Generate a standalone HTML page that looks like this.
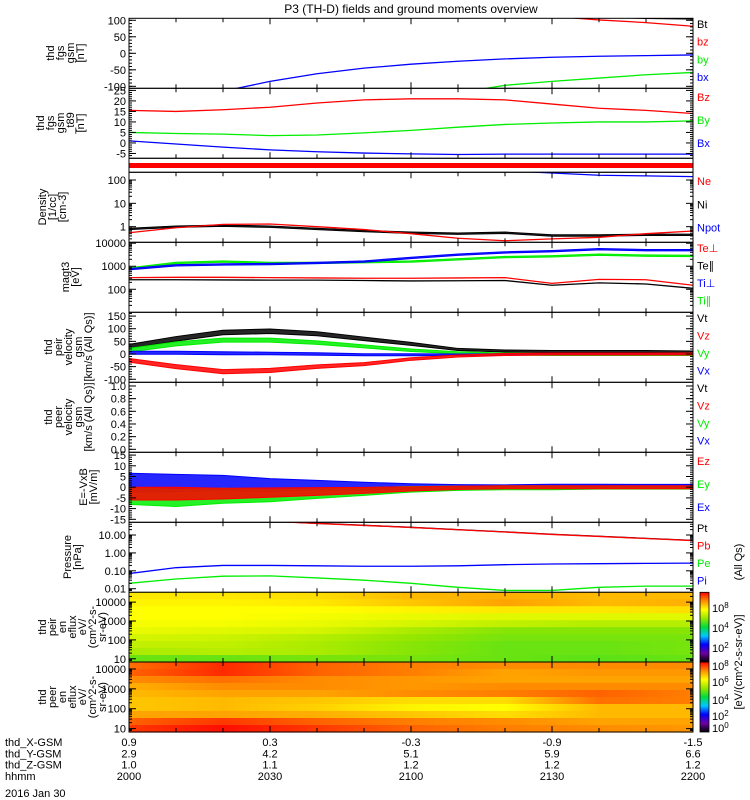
<!DOCTYPE html>
<html><head><meta charset="utf-8">
<style>
html,body{margin:0;padding:0;background:#fff;}
svg{display:block;font-family:"Liberation Sans",sans-serif;}
text{font-size:11px;}
</style></head>
<body>
<svg id="chart" width="750" height="800" viewBox="0 0 750 800" xmlns="http://www.w3.org/2000/svg">
<text x="411" y="13" text-anchor="middle" style="font-size:12px">P3 (TH-D) fields and ground moments overview</text>
</svg>
<script>
// ---- data arrays (time in minutes since 20:00) ----
const times = [0,10,20,30,40,50,60,70,80,90,100,110,120];
const bx = [-180,-150,-115,-85,-62,-45,-33,-24,-17,-12,-9,-7,-5];
const by = [-300,-280,-260,-240,-220,-190,-150,-120,-97,-85,-75,-65,-58];
const bz = [250,230,210,190,170,150,135,125,118,112,101,93,82];
const bt = [300,280,260,240,220,200,180,160,140,125,110,106,104];
const Bz2 = [15.5,15,15.8,17,19,20.5,21,21,20.5,18.5,16.5,15.5,14];
const By2 = [5,4.5,4.2,3.5,3.8,4.8,6,7.5,8.8,9.5,10,10,10.5];
const Bx2 = [1,-0.5,-2,-3.3,-4.2,-4.8,-5.2,-5.5,-5.3,-5.3,-5.3,-5.3,-5.3];
const Ne = [0.55,0.9,1.25,1.3,1.0,0.75,0.5,0.32,0.25,0.3,0.35,0.5,0.65];
const Ni = [0.8,1.0,1.1,1.0,0.8,0.65,0.55,0.5,0.55,0.42,0.42,0.45,0.45];
const Npot = [900,800,700,600,500,400,350,300,250,200,160,150,140];
const TePerp = [320,330,330,320,310,300,300,310,320,180,270,260,150];
const TePar = [260,260,255,250,250,240,230,235,240,150,190,170,110];
const TiPerp = [750,1100,1200,1250,1400,1600,2300,3200,4000,4500,5500,5000,5000];
const TiPar = [800,1400,1600,1400,1400,1500,1600,2000,2500,2700,3200,2900,2800];
const Vt = [30,60,85,90,80,60,40,18,12,10,10,10,8];
const VtNoise = [8,9,9,9,8,7,6,4,4,4,4,4,4];
const Vy = [15,40,55,55,45,30,15,5,0,-2,-2,-2,-2];
const VyNoise = [7,8,8,8,7,6,5,4,4,4,4,4,4];
const Vx = [5,5,3,2,0,-3,-3,-3,-2,0,0,0,0];
const VxNoise = [6,6,6,5,5,4,4,3,3,3,3,3,3];
const Vz = [-25,-50,-70,-65,-50,-40,-20,-8,-2,0,0,0,0];
const VzNoise = [7,8,8,8,7,6,5,4,4,4,4,4,4];
const Ex = [2,2,2,1,1,0.5,0.3,0.2,0.2,0.5,0.5,0.4,0.4];
const ExNoise = [4.5,4,3.5,3,2.2,1.8,1.3,1,0.9,0.9,0.9,0.9,0.9];
const Ey = [-4,-5,-4,-4,-3,-2,-1,-0.5,-0.3,-0.3,-0.2,-0.2,-0.2];
const EyNoise = [4,4,3.5,2.8,2.2,1.8,1.3,1,0.9,0.9,0.7,0.7,0.7];
const Ez = [-3,-3,-3,-2.5,-2,-1.5,-0.8,-0.3,0,0,0,0,0];
const EzNoise = [3,3,2.5,2.2,1.8,1.4,1,0.8,0.7,0.7,0.7,0.7,0.7];
const Pt = [100,90,80,60,45,35,27,20,15,11,8.5,6.5,5];
const Pi = [0.07,0.15,0.2,0.2,0.19,0.18,0.18,0.19,0.22,0.24,0.25,0.26,0.27];
const Pe = [0.02,0.035,0.05,0.052,0.04,0.03,0.02,0.012,0.008,0.008,0.012,0.014,0.014];
const specTimes = [0,20,40,60,80,100,120];
const ionFlux = [
 [6.2,6.2,6.3,6.6,6.7,6.6,6.6],[6.1,6.1,6.2,6.5,6.8,6.6,6.7],[6.0,6.0,6.0,6.1,6.2,6.2,6.3],
 [6.0,6.0,5.9,5.8,5.7,5.7,5.7],[5.9,5.9,5.8,5.6,5.4,5.3,5.3],[5.8,5.7,5.6,5.2,4.9,4.9,4.9],
 [5.6,5.5,5.3,5.0,4.8,4.8,4.8],[5.4,5.4,5.2,4.9,4.7,4.7,4.8],[5.2,5.3,5.2,4.9,4.7,4.7,4.8],
 [4.7,4.7,4.8,4.8,4.7,4.6,4.7]];
const eleFlux = [
 [7.2,7.7,7.3,7.1,7.0,7.0,7.0],[7.3,7.7,7.3,7.1,6.8,6.9,6.9],[7.0,7.2,7.0,6.9,6.8,6.8,6.8],
 [6.7,7.0,7.0,6.9,7.0,7.0,7.0],[6.6,6.8,6.8,7.0,7.1,7.3,7.1],[6.5,6.6,6.5,6.3,6.3,7.2,7.1],
 [6.5,6.6,6.4,6.1,6.0,6.6,6.6],[6.8,6.8,6.7,6.5,6.3,6.6,6.6],[7.3,7.6,7.3,7.1,7.0,6.8,6.8],
 [7.6,7.9,7.6,7.3,7.1,7.0,6.9]];
const xLabelRows = [["thd_X-GSM","0.9","0.3","-0.3","-0.9","-1.5"],["thd_Y-GSM","2.9","4.2","5.1","5.9","6.6"],["thd_Z-GSM","1.0","1.1","1.2","1.2","1.2"],["hhmm","2000","2030","2100","2130","2200"]];

// ---- helpers ----
const svg = document.getElementById('chart');
const NS = 'http://www.w3.org/2000/svg';
const X0 = 129, X1 = 693;
function xS(t){ return X0 + (t/120)*(X1-X0); }
function mk(tag, attrs, parent){ const e = document.createElementNS(NS, tag); for (const k in attrs) e.setAttribute(k, attrs[k]); (parent||svg).appendChild(e); return e; }
function linS(top,bot,dmax,dmin){ return v => top + (dmax - v)/(dmax-dmin)*(bot-top); }
function logS(top,bot,lmax,lmin){ return v => top + (lmax - Math.log10(v))/(lmax-lmin)*(bot-top); }
let clipN = 0;
function clip(top,bot){ const id='c'+(clipN++); const cp = mk('clipPath',{id:id}); mk('rect',{x:X0,y:top,width:X1-X0,height:bot-top},cp); return 'url(#'+id+')'; }
function line(vals, ys, color, clp, name){
  const p = mk('polyline',{points: times.map((t,i)=>xS(t)+','+ys(vals[i])).join(' '), fill:'none', stroke:color, 'stroke-width':1.3, 'clip-path':clp});
  
  
}
function band(vals, noise, ys, color, clp, name){
  const up = times.map((t,i)=>xS(t)+','+ys(vals[i]+noise[i]));
  const dn = times.map((t,i)=>xS(t)+','+ys(vals[i]-noise[i])).reverse();
  const p = mk('polygon',{points: up.concat(dn).join(' '), fill:color, 'fill-opacity':0.85, stroke:color, 'stroke-width':1, 'clip-path':clp});
  
  
}
function frame(top,bot,name){
  const r = mk('rect',{x:X0,y:top,width:X1-X0,height:bot-top,fill:'none',stroke:'#000','stroke-width':1});
  
  
  for (let t=0;t<=120;t+=10){ const L = (t%30===0)?6:4;
    mk('line',{x1:xS(t),x2:xS(t),y1:top,y2:top+L,stroke:'#000'}); mk('line',{x1:xS(t),x2:xS(t),y1:bot,y2:bot-L,stroke:'#000'}); }
}
function ytick(y, label, major, panel){
  const L = major?7:3;
  mk('line',{x1:X0,x2:X0+L,y1:y,y2:y,stroke:'#000'}); mk('line',{x1:X1,x2:X1-L,y1:y,y2:y,stroke:'#000'});
  if (label!==null){ const t = mk('text',{x:X0-3,y:y+4,'text-anchor':'end'}); t.textContent = label;
      }
}
function linTicks(ys, top, bot, majors, step, panel, fmt){
  majors.forEach(v=>ytick(ys(v), fmt?fmt(v):String(v), true, panel));
  const lo = Math.min(...majors)-step*5, hi = Math.max(...majors)+step*5;
  for (let v=lo; v<=hi; v+=step){ const y=ys(v); if (y>top+1 && y<bot-1) ytick(y,null,false,panel); }
}
function logTicks(ys, top, bot, decades, panel, fmt){
  decades.forEach(d=>{ ytick(ys(Math.pow(10,d)), fmt?fmt(d):String(Math.pow(10,d)), true, panel); });
  for (let d=-3; d<6; d++) for (let m=2;m<10;m++){ const y=ys(m*Math.pow(10,d)); if (y>top+1 && y<bot-1) ytick(y,null,false,panel); }
}
function ytitle(lines, yc, xc, panel){
  const g = mk('g',{transform:'translate('+xc+','+yc+') rotate(-90)'});
   
  lines.forEach((s,i)=>{ const t = mk('text',{x:0,y:(i-(lines.length-1)/2)*10+4,'text-anchor':'middle'},g); t.textContent=s; });
}
function legend(items, ys0, dy, panel){
  items.forEach((it,i)=>{ const t = mk('text',{x:697,y:ys0+i*dy,fill:it[1]}); t.textContent = it[0];
      });
}
const R='#ff0000', G='#00ee00', B='#0000ff', K='#000000';

// Panel 1: fgs gsm
(function(){ const top=18.3,bot=88.3; const ys=linS(top,bot,106,-106); const c=clip(top,bot);
 line(bt,ys,K,c,'bt-line'); line(bz,ys,R,c,'bz-line'); line(by,ys,G,c,'by-line'); line(bx,ys,B,c,'bx-line');
 frame(top,bot,'fgs-gsm-panel'); linTicks(ys,top,bot,[100,50,0,-50,-100],10,'fgs-gsm');
 ytitle(['thd','fgs','gsm','[nT]'],53,65,'fgs-gsm'); legend([['Bt',K],['bz',R],['by',G],['bx',B]],28,17.7,'fgs-gsm');})();
// Panel 2: fgs gsm t89
(function(){ const top=88.3,bot=158.3; const ys=linS(top,bot,26,-7.3); const c=clip(top,bot);
 line(Bz2,ys,R,c,'bz-t89-line'); line(By2,ys,G,c,'by-t89-line'); line(Bx2,ys,B,c,'bx-t89-line');
 frame(top,bot,'fgs-t89-panel'); linTicks(ys,top,bot,[25,20,15,10,5,0,-5],1,'fgs-t89');
 ytitle(['thd','fgs','gsm','_t89','[nT]'],123,60,'fgs-t89'); legend([['Bz',R],['By',G],['Bx',B]],101,23,'fgs-t89');})();
// Red status bar
(function(){ const r = mk('rect',{x:X0,y:163,width:X1-X0,height:5,fill:R});
  
 mk('line',{x1:X0,x2:X1,y1:158.3,y2:158.3,stroke:'#000'}); mk('line',{x1:X0,x2:X1,y1:172.3,y2:172.3,stroke:'#000'});
 mk('line',{x1:X0,x2:X0,y1:158.3,y2:172.3,stroke:'#000'}); mk('line',{x1:X1,x2:X1,y1:158.3,y2:172.3,stroke:'#000'});})();
// Panel 3: density
(function(){ const top=172.3,bot=242.3; const ys=logS(top,bot,2.33,-0.67); const c=clip(top,bot);
 band(Ni,Ni.map(v=>v*0.07),ys,K,c,'ni-line'); line(Ne,ys,R,c,'ne-line'); line(Npot,ys,B,c,'npot-line');
 frame(top,bot,'density-panel'); logTicks(ys,top,bot,[2,1,0],'density');
 ytitle(['Density','[1/cc]','[cm-3]'],207,52,'density'); legend([['Ne',R],['Ni',K],['Npot',B]],185,23.3,'density');})();
// Panel 4: temperature
(function(){ const top=242.3,bot=312.3; const ys=logS(top,bot,4.04,1.0); const c=clip(top,bot);
 line(TePar,ys,K,c,'te-par-line'); line(TePerp,ys,R,c,'te-perp-line');
 band(TiPar,TiPar.map(v=>v*0.07),ys,G,c,'ti-par-line'); band(TiPerp,TiPerp.map(v=>v*0.07),ys,B,c,'ti-perp-line');
 frame(top,bot,'temperature-panel'); logTicks(ys,top,bot,[4,3,2],'temperature');
 ytitle(['magt3','[eV]'],277,70,'temperature'); legend([['Te⊥',R],['Te∥',K],['Ti⊥',B],['Ti∥',G]],252,17.5,'temperature');})();
// Panel 5: ion velocity
(function(){ const top=312.3,bot=382.3; const ys=linS(top,bot,165,-112); const c=clip(top,bot);
 band(Vt,VtNoise,ys,K,c,'vt-line'); band(Vy,VyNoise,ys,G,c,'vy-line'); band(Vx,VxNoise,ys,B,c,'vx-line'); band(Vz,VzNoise,ys,R,c,'vz-line');
 frame(top,bot,'ion-velocity-panel'); linTicks(ys,top,bot,[150,100,50,0,-50,-100],10,'ion-velocity');
 ytitle(['thd','peir','velocity','gsm','[km/s (All Qs)]'],347,68,'ion-velocity'); legend([['Vt',K],['Vz',R],['Vy',G],['Vx',B]],322,17.5,'ion-velocity');})();
// Panel 6: electron velocity (empty)
(function(){ const top=382.3,bot=452.3; const ys=linS(top,bot,1.058,-0.047);
 frame(top,bot,'electron-velocity-panel'); linTicks(ys,top,bot,[1.0,0.8,0.6,0.4,0.2,0.0],0.05,'electron-velocity',v=>v.toFixed(1));
 ytitle(['thd','peer','velocity','gsm','[km/s (All Qs)]'],417,68,'electron-velocity'); legend([['Vt',K],['Vz',R],['Vy',G],['Vx',B]],392,17.5,'electron-velocity');})();
// Panel 7: E = -VxB
(function(){ const top=452.3,bot=522.3; const ys=linS(top,bot,16.3,-16.4); const c=clip(top,bot);
 band(Ex,ExNoise,ys,B,c,'ex-line'); band(Ey,EyNoise,ys,G,c,'ey-line'); band(Ez,EzNoise,ys,R,c,'ez-line');
 frame(top,bot,'efield-panel'); linTicks(ys,top,bot,[15,10,5,0,-5,-10,-15],1,'efield');
 ytitle(['E=-VxB','[mV/m]'],487,88,'efield'); legend([['Ez',R],['Ey',G],['Ex',B]],465,23,'efield');})();
// Panel 8: pressure
(function(){ const top=522.3,bot=592.3; const ys=logS(top,bot,1.71,-2.2); const c=clip(top,bot);
 line(Pt,ys,K,c,'pt-line'); line(Pt.map(v=>v*0.98),ys,R,c,'pb-line'); line(Pe,ys,G,c,'pe-line'); line(Pi,ys,B,c,'pi-line');
 frame(top,bot,'pressure-panel'); logTicks(ys,top,bot,[1,0,-1,-2],'pressure',d=>Math.pow(10,d).toFixed(2));
 ytitle(['Pressure','[nPa]'],557,72,'pressure'); legend([['Pt',K],['Pb',R],['Pe',G],['Pi',B]],532,17.5,'pressure');
 const g = mk('g',{transform:'translate(742,562) rotate(-90)'}); const t=mk('text',{x:0,y:0,'text-anchor':'middle'},g); t.textContent='(All Qs)';
  })();
// colormap
function cmap(v){ const stops=[[0,[0,0,0]],[1,[110,0,160]],[2,[0,0,255]],[3,[0,200,255]],[4,[0,220,60]],[5,[150,230,0]],[6,[255,255,0]],[7,[255,140,0]],[8,[255,0,0]]];
 v=Math.max(0,Math.min(8,v)); for(let i=0;i<stops.length-1;i++){ if(v<=stops[i+1][0]){ const f=(v-stops[i][0]); const a=stops[i][1],b=stops[i+1][1];
  return 'rgb('+a.map((c,k)=>Math.round(c+(b[k]-c)*f)).join(',')+')'; } } return 'rgb(255,0,0)'; }
let gradN=0;
function spectro(grid, top, bot, name){
  const defs = mk('defs',{}); const n = grid.length; const h=(bot-top)/n;
  grid.forEach((row,i)=>{ const id='g'+(gradN++); const lg = mk('linearGradient',{id:id,x1:0,x2:1,y1:0,y2:0},defs);
    row.forEach((v,j)=>mk('stop',{offset:(specTimes[j]/120),'stop-color':cmap(v)},lg));
    const r = mk('rect',{x:X0,y:top+i*h,width:X1-X0,height:h+0.6,fill:'url(#'+id+')'});
      });
}
function colorbar(top,bot,name){
  const defs = mk('defs',{}); const id='cb'+(gradN++); const lg = mk('linearGradient',{id:id,x1:0,x2:0,y1:1,y2:0},defs);
  for(let v=0;v<=8;v+=0.5) mk('stop',{offset:v/8,'stop-color':cmap(v)},lg);
  const r = mk('rect',{x:700,y:top,width:9,height:bot-top,fill:'url(#'+id+')',stroke:'#000','stroke-width':0.8});
   
}
// Panel 9: ion spectrogram
(function(){ const top=592.3,bot=662; spectro(ionFlux,top,bot,'ion-spectrogram'); const ys=logS(top,bot,4.52,0.83);
 frame(top,bot,'ion-spectrogram-panel'); logTicks(ys,top,bot,[4,3,2,1],'ion-energy');
 ytitle(['thd','peir','en','eflux','eV/','(cm^2-s-','sr-eV)'],627,72,'ion-spectrogram'); colorbar(top,bot,'ion-colorbar');
 [[8,612],[4,632],[2,652]].forEach(p=>{const t=mk('text',{x:712,y:p[1]});t.innerHTML='10<tspan dy="-4" style="font-size:8px">'+p[0]+'</tspan>';
   });})();
// Panel 10: electron spectrogram
(function(){ const top=662,bot=732; spectro(eleFlux,top,bot,'electron-spectrogram'); const ys=logS(top,bot,4.35,0.83);
 frame(top,bot,'electron-spectrogram-panel'); logTicks(ys,top,bot,[4,3,2,1],'electron-energy');
 ytitle(['thd','peer','en','eflux','eV/','(cm^2-s-','sr-eV)'],697,72,'electron-spectrogram'); colorbar(top,bot,'electron-colorbar');
 [[8,670],[6,686],[4,704],[2,720],[0,732]].forEach(p=>{const t=mk('text',{x:712,y:p[1]});t.innerHTML='10<tspan dy="-4" style="font-size:8px">'+p[0]+'</tspan>';
   });
 const g = mk('g',{transform:'translate(742,662) rotate(-90)'}); const t=mk('text',{x:0,y:0,'text-anchor':'middle'},g); t.textContent='[eV/(cm^2-s-sr-eV)]';
  })();
// X axis labels
xLabelRows.forEach((row,r)=>{ const y=746+r*11.3;
  const t0 = mk('text',{x:5,y:y}); t0.textContent=row[0];  
  for(let k=1;k<row.length;k++){ const t=mk('text',{x:xS((k-1)*30),y:y,'text-anchor':'middle'}); t.textContent=row[k];
      } });
(function(){ const t=mk('text',{x:5,y:797}); t.textContent='2016 Jan 30';  })();
</script>
</body></html>
